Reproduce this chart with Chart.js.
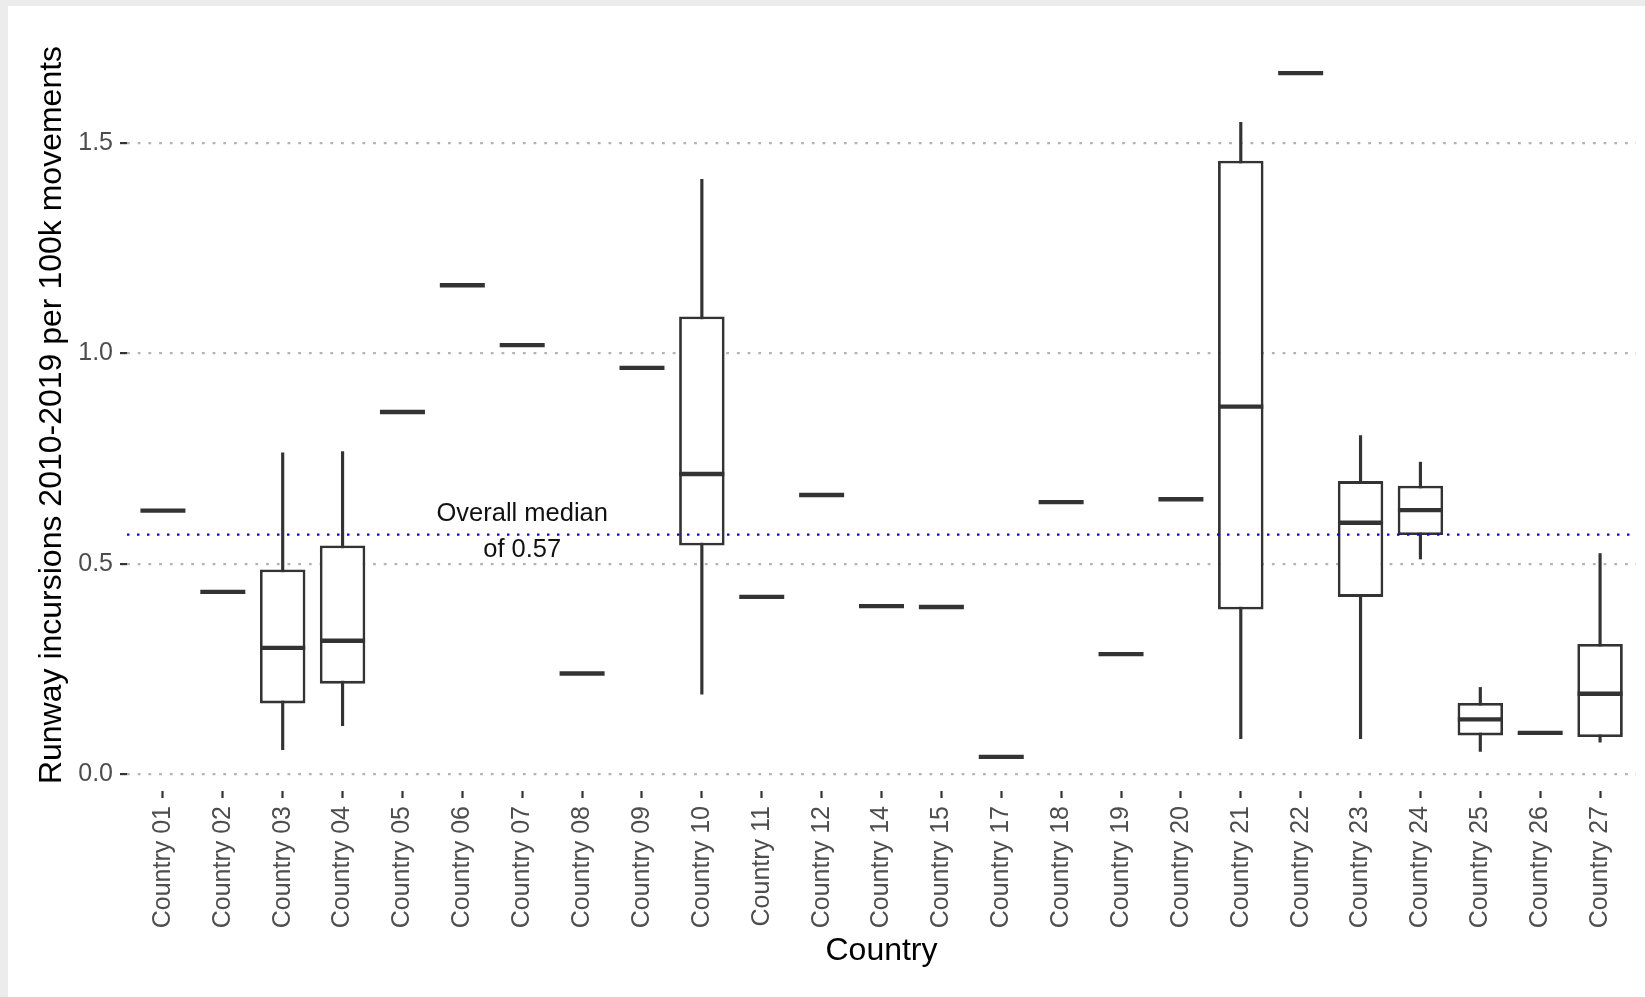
<!DOCTYPE html>
<html>
<head>
<meta charset="utf-8">
<script src="https://cdn.jsdelivr.net/npm/chart.js@4.4.0/dist/chart.umd.min.js"></script>
<style>
  html, body { margin: 0; padding: 0; background: #ececec; }
  #wrap { position: absolute; left: 8px; top: 6px; width: 1637px; height: 991px; background: #fff; }
  canvas { display: block; }
</style>
</head>
<body>
<div id="wrap"><canvas id="chart" width="1637" height="991"></canvas></div>
<script>
// boxplot stats per country
const countries = ['Country 01', 'Country 02', 'Country 03', 'Country 04', 'Country 05', 'Country 06',
  'Country 07', 'Country 08', 'Country 09', 'Country 10', 'Country 11', 'Country 12', 'Country 14',
  'Country 15', 'Country 17', 'Country 18', 'Country 19', 'Country 20', 'Country 21', 'Country 22',
  'Country 23', 'Country 24', 'Country 25', 'Country 26', 'Country 27'];
const whiskerLow  = [0.627, 0.434, 0.059, 0.116, 0.861, 1.162, 1.020, 0.240, 0.966, 0.191, 0.422, 0.664, 0.400,
  0.398, 0.042, 0.647, 0.286, 0.654, 0.085, 1.666, 0.085, 0.512, 0.055, 0.099, 0.077];
const q1          = [0.627, 0.434, 0.169, 0.216, 0.861, 1.162, 1.020, 0.240, 0.966, 0.544, 0.422, 0.664, 0.400,
  0.398, 0.042, 0.647, 0.286, 0.654, 0.392, 1.666, 0.422, 0.569, 0.093, 0.099, 0.089];
const medians     = [0.627, 0.434, 0.301, 0.318, 0.861, 1.162, 1.020, 0.240, 0.966, 0.714, 0.422, 0.664, 0.400,
  0.398, 0.042, 0.647, 0.286, 0.654, 0.874, 1.666, 0.598, 0.628, 0.131, 0.099, 0.192];
const q3          = [0.627, 0.434, 0.487, 0.544, 0.861, 1.162, 1.020, 0.240, 0.966, 1.088, 0.422, 0.664, 0.400,
  0.398, 0.042, 0.647, 0.286, 0.654, 1.458, 1.666, 0.697, 0.686, 0.170, 0.099, 0.310];
const whiskerHigh = [0.627, 0.434, 0.764, 0.767, 0.861, 1.162, 1.020, 0.240, 0.966, 1.414, 0.422, 0.664, 0.400,
  0.398, 0.042, 0.647, 0.286, 0.654, 1.549, 1.666, 0.805, 0.742, 0.207, 0.099, 0.525];
const yTicks = [0, 0.5, 1.0, 1.5];
const overallMedian = 0.57;
const medianLabelX = 6;

Chart.defaults.font.family = '"Liberation Sans", Arial, sans-serif';

const ink = '#333333';

// dotted blue line for the overall median plus its label
const medianPlugin = {
  id: 'overallMedian',
  afterDatasetsDraw(chart) {
    const { ctx, chartArea, scales: { x, y } } = chart;
    const py = y.getPixelForValue(overallMedian);
    ctx.save();
    ctx.strokeStyle = '#0000ff';
    ctx.lineWidth = 2.4;
    ctx.setLineDash([2.4, 7.6]);
    ctx.beginPath();
    ctx.moveTo(chartArea.left, py);
    ctx.lineTo(chartArea.right, py);
    ctx.stroke();
    const px = x.getPixelForValue(medianLabelX);
    ctx.fillStyle = '#111';
    ctx.font = '25.5px "Liberation Sans", Arial, sans-serif';
    ctx.textAlign = 'center';
    ctx.textBaseline = 'middle';
    ctx.fillText('Overall median', px, py - 21);
    ctx.fillText('of ' + overallMedian.toFixed(2), px, py + 15);
    ctx.restore();
  }
};

new Chart(document.getElementById('chart'), {
  type: 'bar',
  data: {
    datasets: [
      {
        type: 'line',
        order: 0,
        data: medians.map((v, i) => ({ x: i, y: v })),
        showLine: false,
        pointStyle: 'line',
        pointRadius: 22.5,
        pointHoverRadius: 22.5,
        pointBorderWidth: 4.4,
        pointBorderColor: ink,
        pointBackgroundColor: ink
      },
      {
        order: 1,
        data: q1.map((v, i) => ({ x: i, y: [v, q3[i]] })),
        backgroundColor: '#ffffff',
        borderColor: ink,
        borderWidth: 2.8,
        borderSkipped: false,
        grouped: false,
        categoryPercentage: 1,
        barPercentage: 0.76
      },
      {
        order: 2,
        data: whiskerLow.map((v, i) => ({ x: i, y: [v, whiskerHigh[i]] })),
        backgroundColor: ink,
        borderWidth: 0,
        grouped: false,
        barThickness: 2.5
      }
    ]
  },
  options: {
    responsive: false,
    animation: false,
    layout: { autoPadding: false, padding: { top: 33, right: 9, left: 0, bottom: 0 } },
    plugins: { legend: { display: false }, tooltip: { enabled: false } },
    scales: {
      x: {
        type: 'linear',
        min: -0.6,
        max: countries.length - 0.4,
        offset: false,
        afterBuildTicks: s => { s.ticks = countries.map((c, i) => ({ value: i })); },
        afterFit: s => { s.height = 206; s.paddingLeft = 0; s.paddingRight = 0; },
        ticks: {
          callback: v => countries[v],
          autoSkip: false,
          minRotation: 90,
          maxRotation: 90,
          color: '#4d4d4d',
          font: { size: 25 },
          padding: 8
        },
        grid: { drawOnChartArea: false, drawTicks: true, tickLength: 7, tickColor: ink, tickWidth: 2.2, offset: false },
        border: { display: false },
        title: { display: true, text: 'Country', color: '#000', font: { size: 32 }, padding: { top: 0, bottom: 27 } }
      },
      y: {
        min: -0.039,
        max: 1.747,
        afterBuildTicks: s => { s.ticks = yTicks.map(v => ({ value: v })); },
        afterFit: s => { s.width = 119; s.paddingTop = 0; s.paddingBottom = 0; },
        ticks: { callback: v => v.toFixed(1), color: '#4d4d4d', font: { size: 25 }, padding: 7 },
        grid: { color: '#b3b3b3', lineWidth: 2.2, drawTicks: true, tickLength: 7, tickColor: ink, tickWidth: 2.2, tickBorderDash: [] },
        border: { display: false, dash: [2.8, 7.9] },
        title: {
          display: true,
          text: 'Runway incursions 2010-2019 per 100k movements',
          color: '#000',
          font: { size: 32 },
          padding: { top: 25, bottom: 0 }
        }
      }
    }
  },
  plugins: [medianPlugin]
});
</script>
</body>
</html>
